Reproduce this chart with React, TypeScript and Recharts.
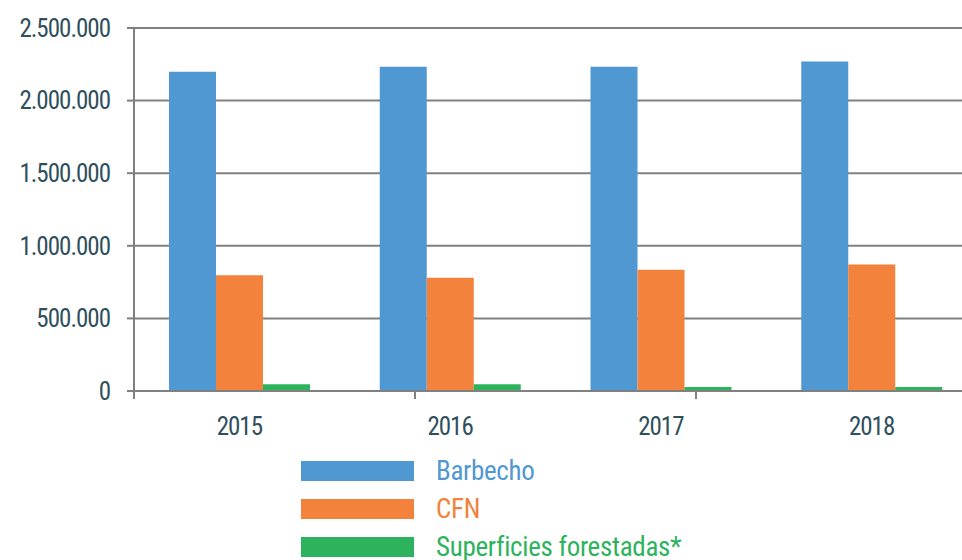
import { Bar, BarChart, CartesianGrid, XAxis, YAxis } from "recharts";

const years = ["2015", "2016", "2017", "2018"];
const barbecho = [2198000, 2233000, 2233000, 2270000];
const cfn = [798000, 780000, 835000, 872000];
const forestadas = [46000, 46000, 27000, 27000];
const yTicks = [0, 500000, 1000000, 1500000, 2000000, 2500000];
const edgeTicks = [0, 1, 2, 3, 4];

const series = [
  { key: "barbecho", name: "Barbecho", color: "#5098D2" },
  { key: "cfn", name: "CFN", color: "#F2823C" },
  { key: "forestadas", name: "Superficies forestadas*", color: "#2DB35E" },
];

const data = years.map((year, i) => ({
  year,
  barbecho: barbecho[i],
  cfn: cfn[i],
  forestadas: forestadas[i],
}));

const font = "'Liberation Sans Narrow', 'Roboto Condensed', Roboto, sans-serif";
const textColor = "#2F4F5D";
const gridColor = "#808080";

const formatNum = (v: number) => v.toLocaleString("de-DE");

export default function App() {
  return (
    <div style={{ position: "absolute", left: 0, top: 0, width: 962, height: 560, overflow: "hidden", background: "#fff" }}>
      <BarChart
        width={977}
        height={470}
        data={data}
        margin={{ top: 28, right: 0, bottom: 30, left: 0 }}
        barCategoryGap={35}
        barGap={0}
      >
        <CartesianGrid vertical={false} stroke={gridColor} strokeWidth={2} />
        <XAxis
          xAxisId="a_edges"
          type="number"
          domain={[0, 4]}
          ticks={edgeTicks}
          tickFormatter={() => ""}
          tick={{ fontSize: 1 }}
          tickSize={8}
          height={8}
          axisLine={{ stroke: gridColor, strokeWidth: 2 }}
          tickLine={{ stroke: gridColor, strokeWidth: 2 }}
        />
        <XAxis
          xAxisId="b_cat"
          dataKey="year"
          axisLine={false}
          tickLine={false}
          tickMargin={12}
          height={41}
          tick={{ fill: textColor, fontSize: 25, fontFamily: font, letterSpacing: -1 }}
        />
        <YAxis
          width={134}
          domain={[0, 2500000]}
          ticks={yTicks}
          tickFormatter={formatNum}
          tickSize={7}
          tickMargin={17}
          axisLine={{ stroke: gridColor, strokeWidth: 2 }}
          tickLine={{ stroke: gridColor, strokeWidth: 2 }}
          tick={{ fill: textColor, fontSize: 25, fontFamily: font, letterSpacing: -1 }}
        />
        {series.map((s) => (
          <Bar key={s.key} xAxisId="b_cat" dataKey={s.key} name={s.name} fill={s.color} isAnimationActive={false} />
        ))}
      </BarChart>
      <div style={{ position: "absolute", left: 301, top: 461 }}>
        {series.map((s) => (
          <div key={s.key} style={{ display: "flex", alignItems: "center", height: 38 }}>
            <div style={{ width: 113, height: 20, background: s.color, marginTop: -18 }} />
            <span
              style={{
                marginLeft: 22,
                marginTop: -18,
                color: s.color,
                fontFamily: font,
                fontSize: 27,
                letterSpacing: -0.3,
                lineHeight: "20px",
              }}
            >
              {s.name}
            </span>
          </div>
        ))}
      </div>
    </div>
  );
}
